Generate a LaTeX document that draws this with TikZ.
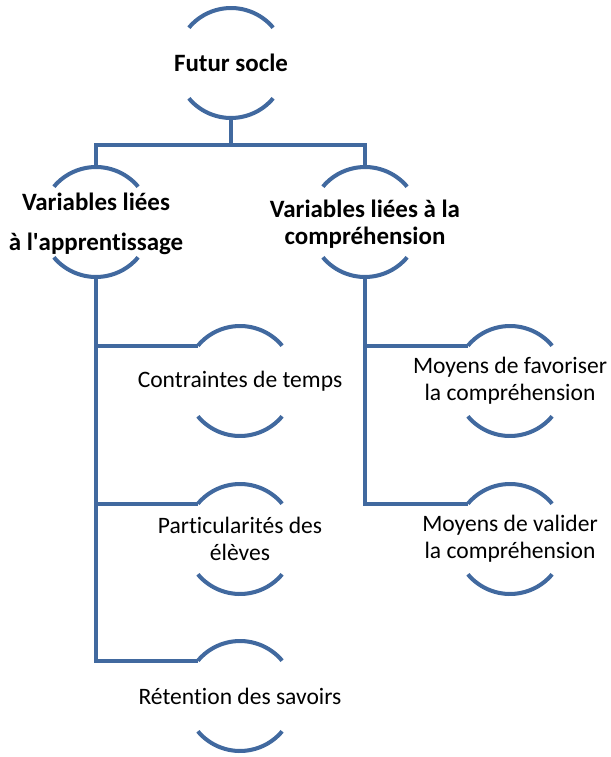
\documentclass[tikz,border=0pt]{standalone}
\usepackage{fontspec}
\setmainfont{Carlito}[Ligatures={TeX,NoCommon}]
\usetikzlibrary{positioning}
\definecolor{ringblue}{HTML}{41699F}

\begin{document}
\begin{tikzpicture}[
  x=0.02cm, y=-0.02cm,
  ring/.style={circle, draw=none, minimum size=2.2cm, inner sep=0pt, outer sep=0pt},
  lbl/.style={align=center, font=\fontsize{13.4}{15.5}\selectfont},
  blbl/.style={lbl, font=\fontsize{14.2}{15.5}\selectfont\bfseries},
  conn/.style={draw=ringblue, line width=2.3pt},
  arcs/.style={draw=ringblue, line width=2.3pt}
]
\useasboundingbox (0,0) rectangle (610,757);

% rings (no text)
\node[ring] (r0) at (231,63) {};
\node[ring] (r1) at (96,222) {};
\node[ring] (r2) at (365,222) {};
\node[ring] (g1) at (240,381) {};
\node[ring] (g2) at (240,539) {};
\node[ring] (g3) at (240,696) {};
\node[ring] (g4) at (510,381) {};
\node[ring] (g5) at (510,539) {};

% texts
\node[blbl] (t0) at (r0) {Futur socle};
\node[blbl] (t1) at ([yshift=-0.04cm]r1) {Variables liées\\[0.26cm] à l\textquotesingle apprentissage};
\node[blbl] (t2) at ([yshift=-0.05cm]r2) {Variables liées à la\\compréhension};
\node[lbl] (u1) at (g1) {Contraintes de temps};
\node[lbl] (u2) at (g2) {Particularités des\\élèves};
\node[lbl] (u3) at (g3) {Rétention des savoirs};
\node[lbl] (u4) at (g4) {Moyens de favoriser\\la compréhension};
\node[lbl] (u5) at (g5) {Moyens de valider\\la compréhension};

% top and bottom arcs
\foreach \r in {r0,r1,r2,g1,g2,g3,g4,g5}{
  \draw[arcs] (\r.40) arc[start angle=40, end angle=140, radius=1.1cm];
  \draw[arcs] (\r.220) arc[start angle=220, end angle=320, radius=1.1cm];
}

% connectors
\draw[conn] (r0.south) -- ++(0,27) coordinate (fork);
\draw[conn] (r1.north) |- (fork) -| (r2.north);
\foreach \g in {g1,g2,g3}
  \draw[conn] (r1.south) |- (\g.140);
\foreach \g in {g4,g5}
  \draw[conn] (r2.south) |- (\g.140);

\end{tikzpicture}
\end{document}
